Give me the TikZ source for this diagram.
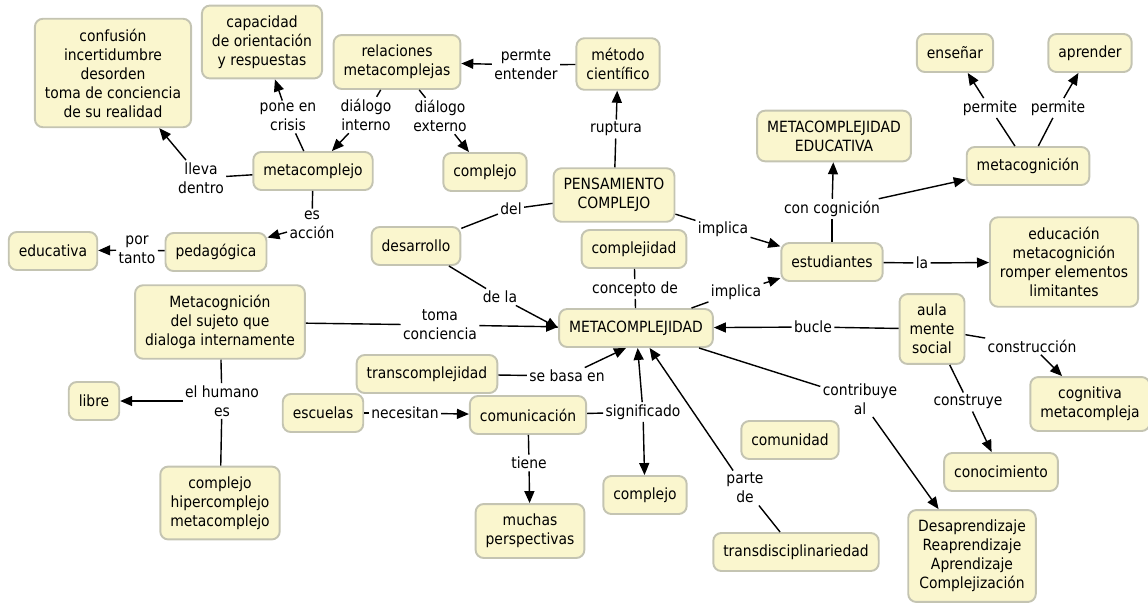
\documentclass[tikz,border=0pt]{standalone}
\usepackage{fontspec}
\setmainfont{DejaVu Sans Condensed}
\usetikzlibrary{arrows.meta}
\definecolor{conceptfill}{RGB}{250,246,206}
\definecolor{conceptline}{RGB}{196,196,178}
\tikzset{
  concept/.style={draw=conceptline, fill=conceptfill, line width=1.1pt,
    rounded corners=0.16cm, align=center, inner xsep=0.2cm, inner ysep=0.2cm,
    minimum height=0.76cm},
  link/.style={fill=white, align=center, inner sep=1pt},
  >={Triangle[length=0.24cm,width=0.2cm]}
}
\begin{document}
\begin{tikzpicture}[x=0.02cm, y=-0.02cm, line width=0.8pt,
  font=\fontsize{8.8}{10.8}\selectfont]
\useasboundingbox (0,0) rectangle (1148,602);
\node[concept] (confusion) at (113,73) {confusión\\incertidumbre\\desorden\\toma de conciencia\\de su realidad};
\node[concept] (capacidad) at (262,42) {capacidad\\de orientación\\y respuestas};
\node[concept] (relaciones) at (397,62) {relaciones\\metacomplejas};
\node[concept] (metodo) at (618,64) {método\\científico};
\node[concept] (ensenar) at (955,53) {enseñar};
\node[concept] (aprender) at (1090,53) {aprender};
\node[concept] (mceduc) at (834,136) {METACOMPLEJIDAD\\EDUCATIVA};
\node[concept] (metacog) at (1028,166) {metacognición};
\node[concept] (metacomplejo) at (313,171) {metacomplejo};
\node[concept] (complejoA) at (485,172) {complejo};
\node[concept] (pensamiento) at (614,195) {PENSAMIENTO\\COMPLEJO};
\node[concept] (educativa) at (53,251) {educativa};
\node[concept] (pedagogica) at (216,252) {pedagógica};
\node[concept] (desarrollo) at (416,246) {desarrollo};
\node[concept] (complejidad) at (634,249) {complejidad};
\node[concept] (estudiantes) at (832,262) {estudiantes};
\node[concept] (educacion) at (1064,262) {educación\\metacognición\\romper elementos\\limitantes};
\node[concept] (sujeto) at (220,322) {Metacognición\\del sujeto que\\dialoga internamente};
\node[concept] (metacomplejidad) at (636,328) {METACOMPLEJIDAD};
\node[concept] (aula) at (932,329) {aula\\mente\\social};
\node[concept] (transcomp) at (427,374) {transcomplejidad};
\node[concept] (libre) at (94,401) {libre};
\node[concept] (escuelas) at (323,413) {escuelas};
\node[concept] (comunicacion) at (528,415) {comunicación};
\node[concept] (cognitiva) at (1090,404) {cognitiva\\metacompleja};
\node[concept] (comunidad) at (790,440) {comunidad};
\node[concept] (conocimiento) at (1001,472) {conocimiento};
\node[concept] (complejoB) at (645,495) {complejo};
\node[concept] (perspectivas) at (530,531) {muchas\\perspectivas};
\node[concept] (transdis) at (796,552) {transdisciplinariedad};
\node[concept] (desaprend) at (972,556) {Desaprendizaje\\Reaprendizaje\\Aprendizaje\\Complejización};
\node[concept] (hiper) at (220,503) {complejo\\hipercomplejo\\metacomplejo};
% linking phrases
\node[link] (lleva) at (201,178) {lleva\\dentro};
\node[link] (pone) at (288,117) {pone en\\crisis};
\node[link] (interno) at (366,115) {diálogo\\interno};
\node[link] (externo) at (440,116) {diálogo\\externo};
\node[link] (permte) at (526,65) {permte\\entender};
\node[link] (ruptura) at (616,129) {ruptura};
\node[link] (permiteA) at (990,108) {permite};
\node[link] (permiteB) at (1058,108) {permite};
\node[link] (concog) at (832,209) {con cognición};
\node[link] (esaccion) at (312,225) {es\\acción};
\node[link] (portanto) at (137,250) {por\\tanto};
\node[link] (del) at (511,209) {del};
\node[link] (implicaA) at (723,229) {implica};
\node[link] (implicaB) at (736,292) {implica};
\node[link] (concepto) at (635,289) {concepto de};
\node[link] (dela) at (500,297) {de la};
\node[link] (toma) at (440,325) {toma\\conciencia};
\node[link] (la) at (922,263) {la};
\node[link] (bucle) at (813,327) {bucle};
\node[link] (construccion) at (1032,346) {construcción};
\node[link] (humano) at (222,401) {el humano\\es};
\node[link] (sebasa) at (567,376) {se basa en};
\node[link] (necesitan) at (405,413) {necesitan};
\node[link] (significado) at (643,412) {significado};
\node[link] (tiene) at (529,463) {tiene};
\node[link] (partede) at (745,488) {parte\\de};
\node[link] (contribuye) at (860,399) {contribuye\\al};
\node[link] (construye) at (968,402) {construye};
% connectors
\foreach \a/\l/\b in {metacomplejo/lleva/confusion, metacomplejo/pone/capacidad,
    relaciones/interno/metacomplejo, relaciones/externo/complejoA,
    metodo/permte/relaciones, pensamiento/ruptura/metodo,
    metacog/permiteA/ensenar, metacog/permiteB/aprender,
    estudiantes/concog/mceduc, metacomplejo/esaccion/pedagogica,
    pedagogica/portanto/educativa, pensamiento/implicaA/estudiantes,
    metacomplejidad/implicaB/estudiantes, sujeto/toma/metacomplejidad,
    aula/bucle/metacomplejidad, estudiantes/la/educacion,
    aula/construccion/cognitiva, aula/construye/conocimiento,
    metacomplejidad/contribuye/desaprend, sujeto/humano/libre,
    escuelas/necesitan/comunicacion, comunicacion/significado/complejoB,
    comunicacion/tiene/perspectivas, transdis/partede/metacomplejidad}
  {\draw (\a) -- (\l);
   \draw[->] (\l) -- (\b);};
\draw[->] (concog) -- (metacog);
\draw[->] (significado) -- (metacomplejidad);
\draw (pensamiento) -- (del) -- (desarrollo);
\draw (desarrollo) -- (dela);
\draw[->] (dela) -- (metacomplejidad.west);
\draw (complejidad) -- (concepto) -- (metacomplejidad);
\draw (humano) -- (hiper);
\draw (transcomp) -- (sebasa);
\draw[->] (sebasa) -- ([xshift=-0.2cm]metacomplejidad.south);
\end{tikzpicture}
\end{document}
